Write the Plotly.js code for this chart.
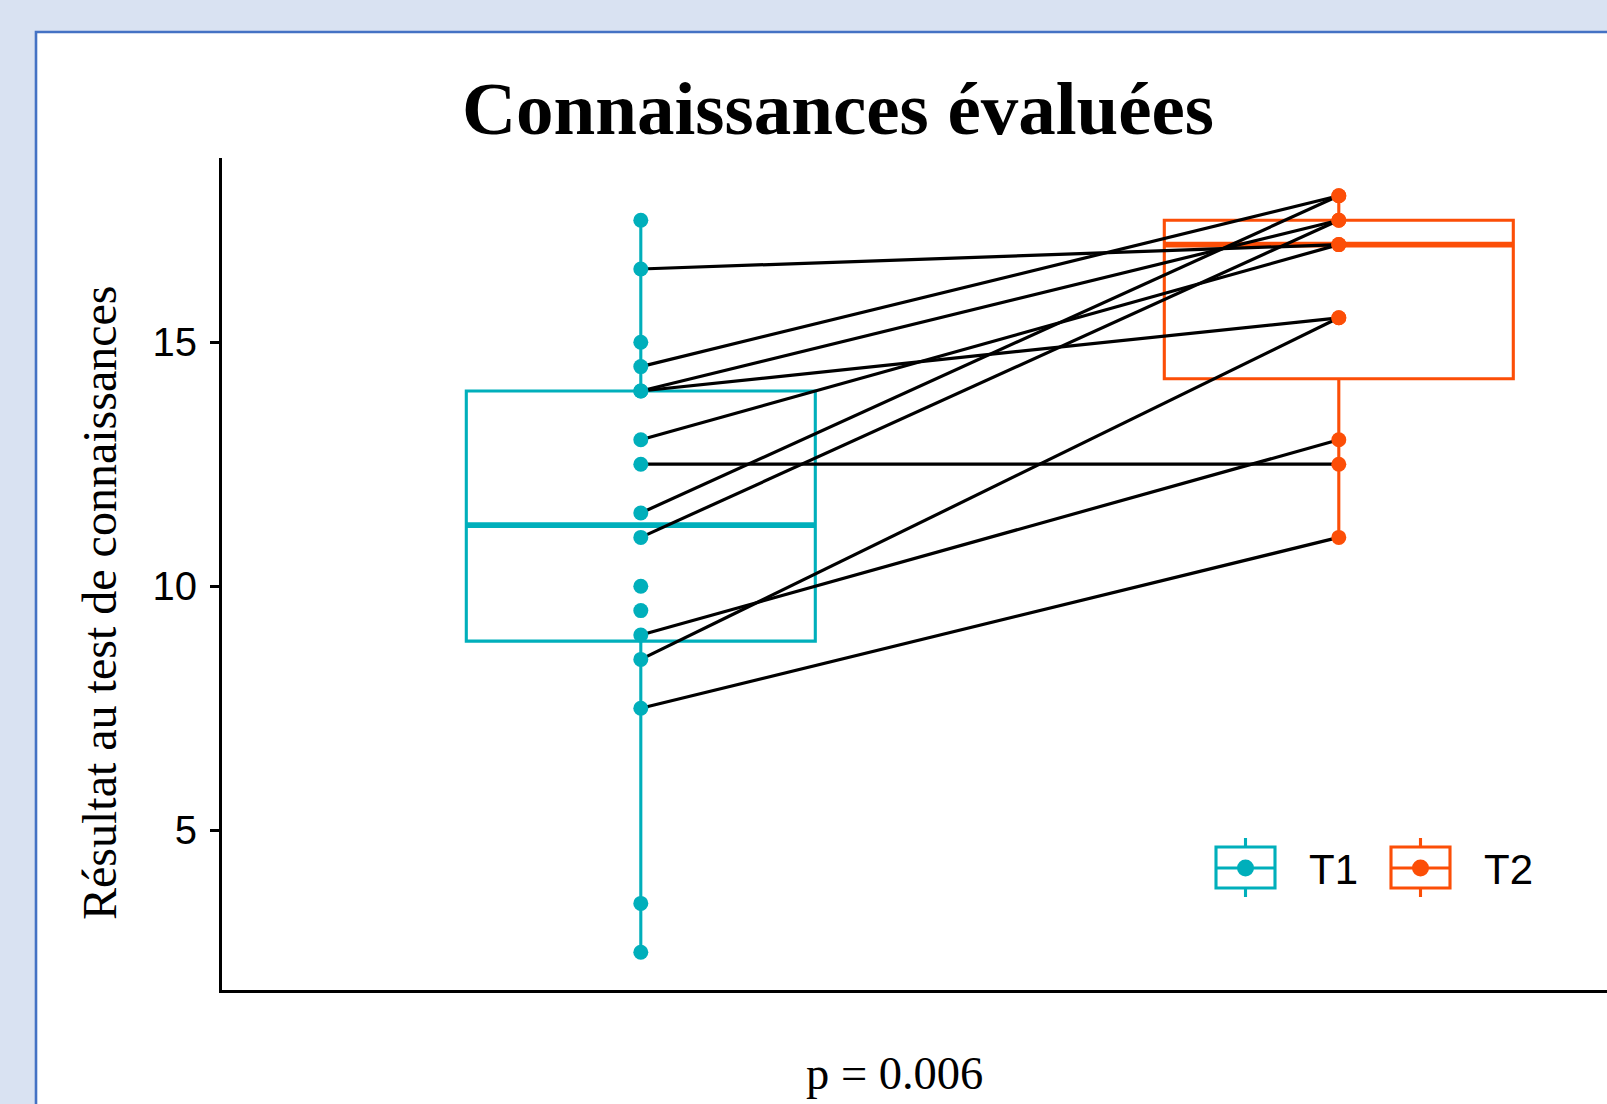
<!DOCTYPE html>
<html>
<head>
<meta charset="utf-8">
<script src="https://cdn.plot.ly/plotly-3.0.1.min.js"></script>
<style>
  html, body { margin: 0; padding: 0; background: #D9E2F2; }
  #chart { width: 1607px; height: 1104px; }
</style>
</head>
<body>
<div id="chart"></div>
<script>
// ---- data ----
const categories = ['T1', 'T2'];
const catPos = [1, 2];
const colors = ['#00AFBB', '#FC4E07'];

// paired subjects (T1 -> T2)
const pairT1 = [16.5, 14.5, 14, 14, 13, 12.5, 11.5, 11, 9, 8.5, 7.5];
const pairT2 = [17, 18, 17.5, 15.5, 17, 12.5, 18, 17.5, 13, 15.5, 11];
// T1 scores without a T2 partner
const unpairedT1 = [17.5, 15, 10, 9.5, 3.5, 2.5];

// box statistics as drawn
const lowerFence = [2.5, 11];
const q1 = [8.875, 14.25];
const medians = [11.25, 17];
const q3 = [14, 17.5];
const upperFence = [17.5, 18];

const yTicks = [5, 10, 15];
const titleText = 'Connaissances évaluées';
const yTitleText = 'Résultat au test de connaissances';
const pText = 'p = 0.006';

// ---- layout geometry ----
const W = 1607, H = 1104;
const ml = 222, mr = 0, mt = 158, mb = 114;
const pw = W - ml - mr, ph = H - mt - mb;
const pxX = px => (px - ml) / pw;
const pxY = py => (H - mb - py) / ph;
const boxWidth = 0.5;
const lineW = 3.1;

const t1Values = pairT1.concat(unpairedT1);
const t2Values = pairT2.slice();
const groupValues = [t1Values, t2Values];

const traces = [];
categories.forEach((c, i) => {
  traces.push({
    type: 'box', x: [catPos[i]], q1: [q1[i]], median: [medians[i]], q3: [q3[i]],
    lowerfence: [lowerFence[i]], upperfence: [upperFence[i]],
    width: boxWidth, whiskerwidth: 0, boxpoints: false,
    line: { color: colors[i], width: lineW },
    fillcolor: 'rgba(0,0,0,0)', hoverinfo: 'skip', showlegend: false, name: c
  });
});
categories.forEach((c, i) => {
  traces.push({
    type: 'scatter', mode: 'lines',
    x: [catPos[i] - boxWidth / 2, catPos[i] + boxWidth / 2],
    y: [medians[i], medians[i]],
    line: { color: colors[i], width: 5.8 }, hoverinfo: 'skip', showlegend: false
  });
});
// paired lines
const lx = [], ly = [];
pairT1.forEach((v, k) => {
  lx.push(catPos[0], catPos[1], null);
  ly.push(v, pairT2[k], null);
});
traces.push({
  type: 'scatter', mode: 'lines', x: lx, y: ly, connectgaps: false,
  line: { color: '#000000', width: 3.2 }, hoverinfo: 'skip', showlegend: false
});
// points
categories.forEach((c, i) => {
  traces.push({
    type: 'scatter', mode: 'markers',
    x: groupValues[i].map(() => catPos[i]), y: groupValues[i],
    marker: { color: colors[i], size: 15, line: { width: 0 } },
    name: c, showlegend: false
  });
});

// ---- custom legend glyphs (boxplot key) ----
const shapes = [];
// panel with border
shapes.push({
  type: 'rect', xref: 'paper', yref: 'paper', layer: 'below',
  x0: pxX(36), x1: pxX(1700), y0: pxY(32), y1: pxY(1200),
  fillcolor: '#FFFFFF', line: { color: '#4472C4', width: 2.6 }
});
const legendX = [1216, 1391];
const legendTextX = [1307, 1482];
const legCy = 868;
const annotations = [];
categories.forEach((c, i) => {
  const x0 = legendX[i], x1 = x0 + 59, cx = (x0 + x1) / 2;
  const ln = { color: colors[i], width: lineW };
  shapes.push({ type: 'rect', xref: 'paper', yref: 'paper', x0: pxX(x0), x1: pxX(x1), y0: pxY(847), y1: pxY(888), line: ln });
  shapes.push({ type: 'line', xref: 'paper', yref: 'paper', x0: pxX(cx), x1: pxX(cx), y0: pxY(838), y1: pxY(847), line: ln });
  shapes.push({ type: 'line', xref: 'paper', yref: 'paper', x0: pxX(cx), x1: pxX(cx), y0: pxY(888), y1: pxY(897), line: ln });
  shapes.push({ type: 'line', xref: 'paper', yref: 'paper', x0: pxX(x0), x1: pxX(x1), y0: pxY(legCy), y1: pxY(legCy), line: ln });
  shapes.push({ type: 'circle', xref: 'paper', yref: 'paper', x0: pxX(cx - 8.5), x1: pxX(cx + 8.5), y0: pxY(legCy - 8.5), y1: pxY(legCy + 8.5), fillcolor: colors[i], line: { width: 0 } });
  annotations.push({
    xref: 'paper', yref: 'paper', x: pxX(legendTextX[i]), y: pxY(869),
    xanchor: 'left', yanchor: 'middle', showarrow: false, text: c,
    font: { family: 'Liberation Sans, Arial, sans-serif', size: 42, color: '#000' }
  });
});
annotations.push({
  xref: 'paper', yref: 'paper', x: pxX(99), y: pxY(603), textangle: -90,
  xanchor: 'center', yanchor: 'middle', showarrow: false, text: yTitleText,
  font: { family: 'Liberation Serif, Times New Roman, serif', size: 48, color: '#000' }
});
annotations.push({
  xref: 'paper', yref: 'paper', x: pxX(894), y: pxY(1073), xanchor: 'center', yanchor: 'middle',
  showarrow: false, text: pText,
  font: { family: 'Liberation Serif, Times New Roman, serif', size: 46.5, color: '#000' }
});

const layout = {
  width: W, height: H,
  margin: { l: ml, r: mr, t: mt, b: mb, pad: 0 },
  paper_bgcolor: '#D9E2F2', plot_bgcolor: 'rgba(0,0,0,0)',
  title: {
    text: '<b>' + titleText + '</b>', x: 838 / W, xanchor: 'center',
    y: 1 - 108 / H, yanchor: 'middle', yref: 'container',
    font: { family: 'Liberation Serif, Times New Roman, serif', size: 75, color: '#000' }
  },
  xaxis: {
    range: [0.4, 0.4 + pw / 698], showgrid: false, zeroline: false,
    showline: true, linecolor: '#000', linewidth: lineW,
    showticklabels: false, ticks: '', fixedrange: true
  },
  yaxis: {
    range: [1.725, 18.775], showgrid: false, zeroline: false,
    showline: true, linecolor: '#000', linewidth: lineW,
    tickvals: yTicks, ticktext: yTicks.map(String), ticks: 'outside', ticklen: 9, tickwidth: lineW, tickcolor: '#000',
    ticklabelstandoff: 5,
    tickfont: { family: 'Liberation Sans, Arial, sans-serif', size: 40, color: '#000' }, fixedrange: true
  },
  shapes: shapes, annotations: annotations, showlegend: false
};

Plotly.newPlot('chart', traces, layout, { displayModeBar: false, staticPlot: true });
</script>
</body>
</html>
